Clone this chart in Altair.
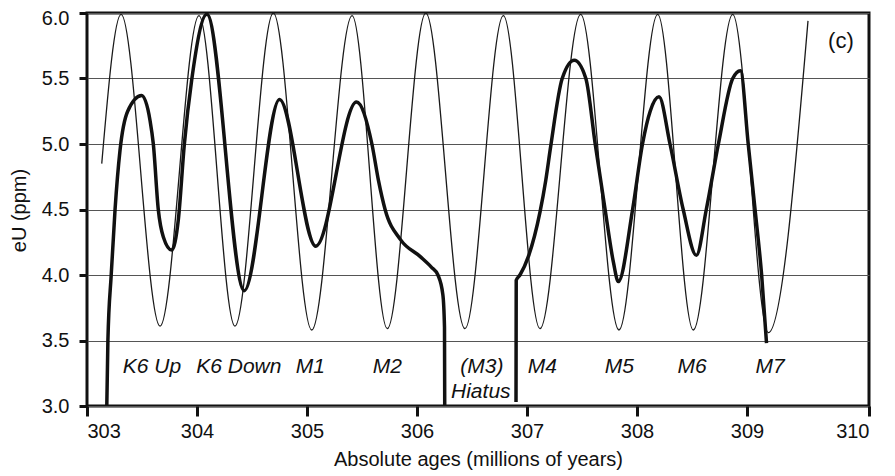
import altair as alt
import pandas as pd

# Thin curve (modelled cycle): peaks and troughs
thin_age = [303.134, 303.31, 303.664, 304.018, 304.345, 304.694, 305.043, 305.41, 305.73,
            306.08, 306.436, 306.785, 307.118, 307.488, 307.836, 308.188, 308.512, 308.87,
            309.175, 309.50]
thin_eu = [4.85, 5.99, 3.61, 5.98, 3.61, 6.00, 3.58, 5.98, 3.59,
           6.00, 3.59, 5.98, 3.59, 5.99, 3.58, 5.99, 3.58, 5.99,
           3.56, 5.94]

# Thick curve, first part (K6 Up .. M2)
thick_a_age = [303.18, 303.19, 303.22, 303.255, 303.30, 303.37, 303.497, 303.573, 303.603,
               303.648, 303.694, 303.77, 303.83, 303.885, 303.952, 304.09, 304.43, 304.75,
               305.08, 305.45, 305.59, 305.65, 305.71, 305.85, 306.03, 306.13, 306.19,
               306.235, 306.25, 306.252]
thick_a_eu = [3.00, 3.50, 4.00, 4.50, 4.95, 5.25, 5.37, 5.18, 5.00,
              4.50, 4.29, 4.19, 4.42, 5.00, 5.49, 5.99, 3.88, 5.34,
              4.22, 5.32, 5.00, 4.72, 4.50, 4.27, 4.14, 4.06, 4.00,
              3.85, 3.60, 3.00]

# Thick curve, second part (M4 .. M7)
thick_b_age = [306.90, 306.902, 306.936, 307.012, 307.118, 307.17, 307.215, 307.32, 307.43,
               307.535, 307.62, 307.71, 307.785, 307.83, 307.96, 308.05, 308.12, 308.20,
               308.30, 308.42, 308.54, 308.63, 308.74, 308.87, 308.94, 309.01, 309.066,
               309.12, 309.16]
thick_b_eu = [3.03, 3.96, 4.00, 4.14, 4.48, 4.72, 4.98, 5.50, 5.64,
              5.50, 5.00, 4.50, 4.10, 3.95, 4.50, 5.00, 5.25, 5.36,
              5.00, 4.50, 4.15, 4.50, 5.00, 5.50, 5.56, 5.00, 4.50,
              4.00, 3.48]

label_text = ["K6 Up", "K6 Down", "M1", "M2", "(M3)", "Hiatus", "M4", "M5", "M6", "M7"]
label_age = [303.59, 304.38, 305.03, 305.73, 306.59, 306.58, 307.14, 307.84, 308.50, 309.19]
label_eu = [3.30, 3.30, 3.30, 3.30, 3.30, 3.11, 3.30, 3.30, 3.30, 3.30]

x_ticks = [303, 304, 305, 306, 307, 308, 309, 310]
y_ticks = [3.0, 3.5, 4.0, 4.5, 5.0, 5.5, 6.0]

FONT = "Liberation Sans"

thin_df = pd.DataFrame({"age": thin_age, "eu": thin_eu})
thick_df = pd.concat([
    pd.DataFrame({"age": thick_a_age, "eu": thick_a_eu, "seg": "a"}),
    pd.DataFrame({"age": thick_b_age, "eu": thick_b_eu, "seg": "b"}),
], ignore_index=True)
lab_df = pd.DataFrame({"txt": label_text, "age": label_age, "eu": label_eu})
c_df = pd.DataFrame({"txt": ["(c)"], "age": [309.77], "eu": [5.79]})

x_scale = alt.Scale(domain=[303, 309, 310], range=[0, 660, 782], zero=False, nice=False)
y_scale = alt.Scale(domain=[3.0, 6.0], zero=False, nice=False)

x_enc = alt.X("age:Q", scale=x_scale,
              axis=alt.Axis(values=x_ticks, format="d", title="Absolute ages (millions of years)",
                            grid=False, domain=False, tickSize=10, tickWidth=3, tickColor="#111",
                            labelPadding=5, titlePadding=8))
y_enc = alt.Y("eu:Q", scale=y_scale,
              axis=alt.Axis(values=y_ticks, format=".1f", title="eU (ppm)",
                            grid=True, gridColor="#555", gridWidth=1, domain=False,
                            tickSize=8, tickWidth=3, tickColor="#111", labelPadding=10,
                            labelOffset={"condition": {"test": "datum.value == 6", "value": 5},
                                         "value": 0},
                            titleX=-58, titleY=197))

thin = alt.Chart(thin_df).mark_line(color="#1a1a1a", strokeWidth=1.3, interpolate="monotone").encode(
    x=x_enc, y=y_enc, order="age:Q")

thick = alt.Chart(thick_df).mark_line(color="#111", strokeWidth=3.5, interpolate="monotone").encode(
    x="age:Q", y="eu:Q", detail="seg:N", order="age:Q")

labels = alt.Chart(lab_df).mark_text(font=FONT, fontSize=21, fontStyle="italic", color="#111",
                                     align="center", baseline="middle").encode(
    x="age:Q", y="eu:Q", text="txt:N")

c_lab = alt.Chart(c_df).mark_text(font=FONT, fontSize=22, color="#111",
                                  align="center", baseline="middle").encode(
    x="age:Q", y="eu:Q", text="txt:N")

chart = alt.layer(thin, thick, labels, c_lab).properties(
    width=782, height=393,
    autosize=alt.AutoSizeParams(type="none"),
    padding={"left": 79, "top": 5, "right": 16, "bottom": 68},
    background="white",
).configure_view(stroke="#111", strokeWidth=3).configure_axis(
    labelFont=FONT, titleFont=FONT, labelFontSize=20, titleFontSize=20,
    labelColor="#111", titleColor="#111", titleFontWeight="normal"
)

chart.save("out.html", embed_options={"renderer": "svg", "actions": False})
